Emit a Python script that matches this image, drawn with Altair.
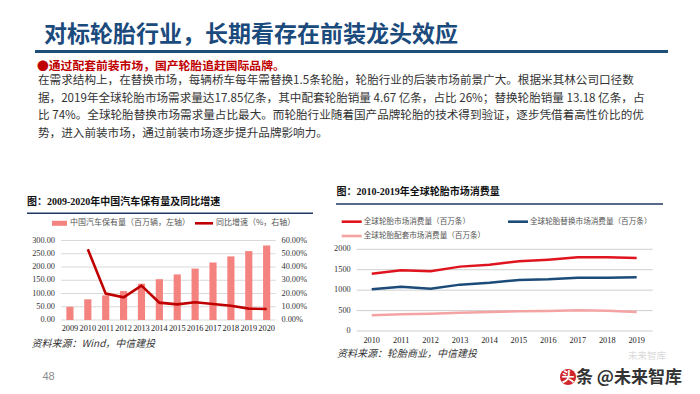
import altair as alt
import pandas as pd

# ---------------- data ----------------
years_left = ["2009", "2010", "2011", "2012", "2013", "2014", "2015", "2016", "2017", "2018", "2019", "2020"]
car_stock = [50, 78, 93, 109, 137, 154, 172, 194, 217, 240, 260, 281]          # 百万辆
car_growth = [None, 53.4, 19.9, 17.1, 26.0, 13.1, 11.8, 13.4, 12.1, 10.8, 8.6, 8.3]  # %

years_right = ["2010", "2011", "2012", "2013", "2014", "2015", "2016", "2017", "2018", "2019"]
tire_total = [1404, 1486, 1461, 1576, 1624, 1706, 1747, 1804, 1804, 1785]
tire_replace = [1020, 1086, 1037, 1135, 1184, 1249, 1265, 1306, 1306, 1318]
tire_oem = [384, 408, 424, 449, 465, 482, 490, 506, 498, 467]

series_names = ["全球轮胎市场消费量（百万条）", "全球轮胎替换市场消费量（百万条）", "全球轮胎配套市场消费量（百万条）"]
series_colors = ["#E0141E", "#1B4B78", "#F4A3A3"]

left_ticks = [0, 50, 100, 150, 200, 250, 300]
right_pct_ticks = [0, 10, 20, 30, 40, 50, 60]
tire_ticks = [0, 500, 1000, 1500, 2000]

slide_title = "对标轮胎行业，长期看存在前装龙头效应"
bullet = "●通过配套前装市场，国产轮胎追赶国际品牌。"
body_lines = [
    "在需求结构上，在替换市场，每辆桥车每年需替换1.5条轮胎，轮胎行业的后装市场前景广大。根据米其林公司口径数",
    "据，2019年全球轮胎市场需求量达17.85亿条，其中配套轮胎销量 4.67 亿条，占比 26%；替换轮胎销量 13.18 亿条，占",
    "比 74%。全球轮胎替换市场需求量占比最大。而轮胎行业随着国产品牌轮胎的技术得到验证，逐步凭借着高性价比的优",
    "势，进入前装市场，通过前装市场逐步提升品牌影响力。",
]
left_title = "图：2009-2020年中国汽车保有量及同比增速"
right_title = "图：2010-2019年全球轮胎市场消费量"
left_legend = ["中国汽车保有量（百万辆，左轴）", "同比增速（%，右轴）"]
left_source = "资料来源：Wind，中信建投"
right_source = "资料来源：轮胎商业，中信建投"

# ---------------- layout helpers ----------------
OX, OY = 8, 8
def X(v): return v - OX
def Y(v): return v - OY

CJK = "Noto Sans CJK SC"
SERIF = "Liberation Serif, Noto Sans CJK SC"
ONE = pd.DataFrame({"t": [""]})
AX = 8.3  # axis label size

def txt(s, x, y, size, color="#333333", weight="normal", font=CJK, align="left", style="normal"):
    return alt.Chart(pd.DataFrame({"t": [s]})).mark_text(
        align=align, baseline="middle", fontSize=size, color=color, fontWeight=weight,
        font=font, fontStyle=style
    ).encode(x=alt.value(X(x)), y=alt.value(Y(y)), text="t:N")

def hline(x1, x2, y, color, width):
    return alt.Chart(ONE).mark_rule(color=color, strokeWidth=width).encode(
        x=alt.value(X(x1)), x2=alt.value(X(x2)), y=alt.value(Y(y)))

layers = []

# ---------------- slide header ----------------
layers.append(txt(slide_title, 44, 35, 23, color="#1B4A7C", weight="bold"))
layers.append(hline(35, 668, 51.5, "#1F4E79", 3))
layers.append(txt(bullet, 37, 65.5, 11.8, color="#C00000", weight="bold"))
for line, yy in zip(body_lines, [81, 98.5, 116, 133.5]):
    layers.append(txt(line, 38, yy, 11.6, color="#333333"))

# ---------------- left chart ----------------
LX0, LX1 = 61, 275.6
LY0, LY1 = 320, 240.5
xband = alt.Scale(type="band", domain=years_left, range=[X(LX0), X(LX1)], paddingInner=0.6, paddingOuter=0.3)
xpt_l = alt.Scale(type="point", domain=years_left, range=[X(LX0), X(LX1)], padding=0.5)
yl = alt.Scale(domain=[0, 300], range=[Y(LY0), Y(LY1)], nice=False, zero=True)
yr = alt.Scale(domain=[0, 60], range=[Y(LY0), Y(LY1)], nice=False, zero=True)

layers.append(txt(left_title, 27, 201.5, 10, color="#111111", weight="bold", font=SERIF))
layers.append(hline(27, 313, 213.3, "#1F3864", 1.6))

df_lt = pd.DataFrame({"v": left_ticks, "lab": [f"{v:.2f}" for v in left_ticks]})
df_rt = pd.DataFrame({"p": right_pct_ticks, "lab": [f"{v:.2f}%" for v in right_pct_ticks]})
layers.append(alt.Chart(df_lt).mark_rule(color="#D9D9D9", strokeWidth=1).encode(
    y=alt.Y("v:Q", scale=yl, axis=None), x=alt.value(X(LX0)), x2=alt.value(X(LX1))))
layers.append(alt.Chart(df_lt).mark_text(align="right", baseline="middle", fontSize=AX, font=SERIF, color="#333333").encode(
    y=alt.Y("v:Q", scale=yl, axis=None), x=alt.value(X(55)), text="lab:N"))
layers.append(alt.Chart(df_rt).mark_text(align="left", baseline="middle", fontSize=AX, font=SERIF, color="#333333").encode(
    y=alt.Y("p:Q", scale=yr, axis=None), x=alt.value(X(281.5)), text="lab:N"))

df_left = pd.DataFrame({"year": years_left, "stock": car_stock, "growth": car_growth})
layers.append(alt.Chart(df_left).mark_bar(color="#F4827F").encode(
    x=alt.X("year:O", scale=xband, axis=None),
    y=alt.Y("stock:Q", scale=yl, axis=None)))
layers.append(alt.Chart(df_left.dropna()).mark_line(color="#C00000", strokeWidth=2.6).encode(
    x=alt.X("year:O", scale=xpt_l, axis=None),
    y=alt.Y("growth:Q", scale=yr, axis=None)))
layers.append(alt.Chart(df_left).mark_text(baseline="middle", fontSize=AX, font=SERIF, color="#222222").encode(
    x=alt.X("year:O", scale=xpt_l, axis=None), y=alt.value(Y(329)), text="year:N"))

# legend (left)
layers.append(hline(52, 67, 223.3, "#F4827F", 5))
layers.append(txt(left_legend[0], 70, 223.3, 8, color="#555555"))
layers.append(hline(195, 213, 223.3, "#C00000", 2.6))
layers.append(txt(left_legend[1], 216, 223.3, 8, color="#555555"))
layers.append(txt(left_source, 31.5, 344, 10, color="#333333", style="italic"))

# ---------------- right chart ----------------
RX0, RX1 = 357, 651.4
RY0, RY1 = 331, 249.3
xpt_r = alt.Scale(type="point", domain=years_right, range=[X(RX0), X(RX1)], padding=0.5)
yt = alt.Scale(domain=[0, 2000], range=[Y(RY0), Y(RY1)], nice=False, zero=True)

layers.append(txt(right_title, 336.5, 192.3, 10, color="#111111", weight="bold", font=SERIF))
layers.append(hline(336, 663, 204, "#1F3864", 1.6))

df_tt = pd.DataFrame({"v": tire_ticks, "lab": [str(v) for v in tire_ticks]})
layers.append(alt.Chart(df_tt).mark_rule(color="#CFCFCF", strokeWidth=1).encode(
    y=alt.Y("v:Q", scale=yt, axis=None), x=alt.value(X(356.7)), x2=alt.value(X(652.7))))
layers.append(alt.Chart(df_tt).mark_text(align="right", baseline="middle", fontSize=AX, font=SERIF, color="#333333").encode(
    y=alt.Y("v:Q", scale=yt, axis=None), x=alt.value(X(350.7)), text="lab:N"))

rows = []
for name, vals in zip(series_names, [tire_total, tire_replace, tire_oem]):
    for yr_, v in zip(years_right, vals):
        rows.append({"year": yr_, "val": v, "series": name})
df_right = pd.DataFrame(rows)
layers.append(alt.Chart(df_right).mark_line(strokeWidth=2.5).encode(
    x=alt.X("year:O", scale=xpt_r, axis=None),
    y=alt.Y("val:Q", scale=yt, axis=None),
    color=alt.Color("series:N", scale=alt.Scale(domain=series_names, range=series_colors), legend=None),
    order=alt.Order("year:O")))
layers.append(alt.Chart(pd.DataFrame({"year": years_right})).mark_text(baseline="middle", fontSize=AX, font=SERIF, color="#222222").encode(
    x=alt.X("year:O", scale=xpt_r, axis=None), y=alt.value(Y(340.7)), text="year:N"))

# legend (right)
for (lx, ly), name, col in zip([(341.7, 221.7), (508, 221.7), (341.7, 236)], series_names, series_colors):
    layers.append(hline(lx, lx + 20, ly, col, 2.6))
    layers.append(txt(name, lx + 22, ly, 7.6, color="#555555"))
layers.append(txt(right_source, 337, 354.3, 10, color="#333333", style="italic"))

# ---------------- footer ----------------
layers.append(txt("48", 42.5, 376.5, 11, color="#8C8C8C", font="Liberation Sans"))
layers.append(txt("未来智库", 628, 356, 9.5, color="#DADADA"))
layers.append(alt.Chart(ONE).mark_point(filled=True, size=260, color="#D0262B", opacity=1).encode(
    x=alt.value(X(568)), y=alt.value(Y(377))))
layers.append(txt("头", 568, 377, 13, color="#FFFFFF", weight="bold", align="center"))
layers.append(txt("条 @未来智库", 576, 377.5, 17, color="#333333", weight="bold"))

chart = alt.layer(*layers).resolve_scale(
    x="independent", y="independent", color="independent"
).properties(
    width=684, height=378, autosize="none", padding=0, background="white"
).configure_view(stroke=None)

chart.save("out.html", embed_options={"renderer": "svg", "actions": False})
